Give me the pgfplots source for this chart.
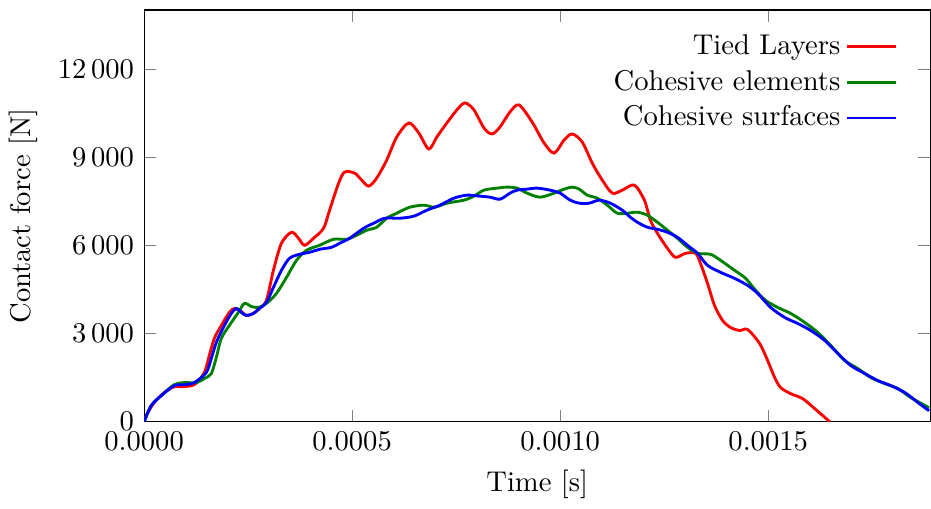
\documentclass[border=0pt]{standalone}
\usepackage{pgfplots}
\pgfplotsset{compat=1.18}
\usepackage{pgfplotstable}

% Tied Layers
\pgfplotstableread{
t f
0 0
0.0000048 205
0.0000241 648
0.0000482 989
0.0000723 1193
0.0000892 1193
0.0001205 1261
0.0001446 1670
0.0001566 2250
0.0001687 2830
0.0001855 3273
0.0002048 3716
0.0002169 3852
0.0002337 3750
0.0002458 3614
0.0002627 3682
0.0002771 3852
0.0002940 4125
0.0003108 5148
0.0003301 6068
0.0003542 6443
0.0003711 6238
0.0003855 6000
0.0004072 6238
0.0004313 6579
0.0004458 7193
0.0004675 8113
0.0004819 8488
0.0005060 8454
0.0005229 8216
0.0005398 8011
0.0005590 8284
0.0005831 8897
0.0006072 9682
0.0006361 10159
0.0006602 9818
0.0006843 9272
0.0007036 9682
0.0007277 10159
0.0007518 10602
0.0007711 10841
0.0007928 10602
0.0008169 9988
0.0008361 9784
0.0008554 10023
0.0008795 10534
0.0009012 10772
0.0009325 10193
0.0009614 9477
0.0009855 9136
0.0010096 9579
0.0010289 9784
0.0010530 9511
0.0010771 8795
0.0011012 8216
0.0011253 7773
0.0011494 7875
0.0011783 8045
0.0012024 7534
0.0012169 6852
0.0012337 6409
0.0012578 5898
0.0012771 5591
0.0013012 5727
0.0013253 5727
0.0013373 5386
0.0013542 4704
0.0013711 3954
0.0013904 3443
0.0014096 3204
0.0014313 3102
0.0014506 3136
0.0014795 2659
0.0014988 2079
0.0015157 1500
0.0015301 1159
0.0015542 955
0.0015831 784
0.0016120 443
0.0016482 0
}\tied

% Cohesive elements
\pgfplotstableread{
t f
0 0
0.0000169 545
0.0000410 886
0.0000723 1261
0.0000964 1330
0.0001253 1330
0.0001446 1466
0.0001614 1636
0.0001735 2182
0.0001855 2830
0.0002048 3273
0.0002265 3716
0.0002410 4023
0.0002578 3920
0.0002747 3886
0.0002940 4023
0.0003181 4364
0.0003422 4909
0.0003663 5488
0.0003904 5829
0.0004217 6000
0.0004554 6204
0.0004867 6204
0.0005108 6341
0.0005349 6511
0.0005590 6614
0.0005831 6920
0.0006072 7091
0.0006386 7295
0.0006723 7363
0.0006988 7295
0.0007277 7432
0.0007687 7534
0.0007928 7670
0.0008169 7875
0.0008482 7943
0.0008723 7977
0.0008964 7943
0.0009205 7773
0.0009518 7636
0.0009855 7773
0.0010096 7909
0.0010289 7977
0.0010458 7909
0.0010651 7704
0.0010892 7602
0.0011133 7363
0.0011373 7091
0.0011614 7091
0.0011855 7125
0.0012096 7023
0.0012337 6784
0.0012578 6511
0.0012819 6238
0.0013060 5932
0.0013301 5727
0.0013614 5693
0.0013855 5488
0.0014193 5148
0.0014458 4875
0.0014699 4466
0.0014940 4125
0.0015229 3886
0.0015542 3682
0.0015880 3375
0.0016193 3034
0.0016506 2591
0.0016843 2079
0.0017157 1807
0.0017470 1500
0.0017807 1295
0.0018120 1125
0.0018434 818
0.0018867 477
}\celem

% Cohesive surfaces
\pgfplotstableread{
t f
0 0
0.0000169 545
0.0000410 886
0.0000723 1227
0.0000964 1261
0.0001205 1330
0.0001494 1670
0.0001614 2148
0.0001735 2693
0.0001904 3204
0.0002096 3682
0.0002217 3852
0.0002337 3716
0.0002458 3614
0.0002627 3682
0.0002771 3852
0.0002940 4057
0.0003108 4568
0.0003301 5148
0.0003494 5557
0.0003735 5693
0.0003976 5761
0.0004217 5863
0.0004506 5932
0.0004699 6068
0.0004940 6238
0.0005277 6579
0.0005518 6750
0.0005783 6920
0.0006145 6920
0.0006482 6989
0.0006795 7193
0.0007108 7363
0.0007446 7602
0.0007759 7704
0.0008072 7670
0.0008313 7636
0.0008554 7568
0.0008795 7773
0.0008964 7875
0.0009205 7909
0.0009446 7943
0.0009759 7875
0.0010000 7773
0.0010241 7534
0.0010458 7432
0.0010699 7432
0.0010940 7534
0.0011205 7432
0.0011494 7193
0.0011687 6954
0.0011855 6784
0.0012096 6614
0.0012337 6545
0.0012578 6443
0.0012819 6273
0.0013060 6000
0.0013301 5727
0.0013542 5318
0.0013855 5080
0.0014193 4875
0.0014506 4636
0.0014747 4364
0.0015060 3886
0.0015398 3545
0.0015711 3341
0.0016024 3102
0.0016361 2761
0.0016675 2318
0.0016988 1909
0.0017325 1636
0.0017639 1398
0.0017952 1227
0.0018289 989
0.0018602 648
0.0018867 375
}\csurf

\begin{document}
\begin{tikzpicture}
\begin{axis}[
    scale only axis,
    width=275pt,
    height=144pt,
    xmin=0, xmax=0.00189,
    ymin=0, ymax=14000,
    xtick={0,0.0005,0.0010,0.0015},
    ytick={0,3000,6000,9000,12000},
    scaled x ticks=false,
    scaled y ticks=false,
    xticklabel style={/pgf/number format/fixed,
        /pgf/number format/fixed zerofill,
        /pgf/number format/precision=4},
    yticklabel style={/pgf/number format/1000 sep={\,}},
    tick style={gray},
    xlabel={Time [s]},
    ylabel={Contact force [N]},
    legend pos=north east,
    legend style={draw=none, fill=none},
    legend cell align=right,
    legend plot pos=right,
    every axis plot/.append style={line width=1pt, smooth, tension=0.5},
]
\addplot[red, no markers] table[x=t, y=f] {\tied};
\addlegendentry{Tied Layers}
\addplot[green!50!black, no markers] table[x=t, y=f] {\celem};
\addlegendentry{Cohesive elements}
\addplot[blue, no markers] table[x=t, y=f] {\csurf};
\addlegendentry{Cohesive surfaces}
\end{axis}
% a little white space above the frame
\path ([yshift=3.5pt]current axis.north);
\end{tikzpicture}
\end{document}
